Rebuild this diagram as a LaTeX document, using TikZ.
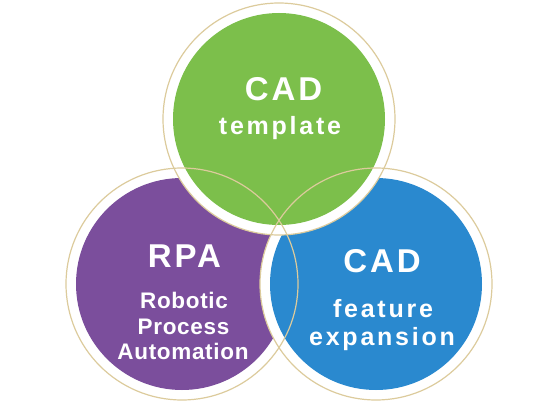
\documentclass[tikz,border=0pt]{standalone}
\usepackage{fontspec}
\setmainfont{Liberation Sans}
\newfontfamily\bigfont{Liberation Sans}[BoldFont={* Bold},LetterSpace=9]
\newfontfamily\widefont{Liberation Sans}[BoldFont={* Bold},LetterSpace=11]
\newfontfamily\tightfont{Liberation Sans}[BoldFont={* Bold},LetterSpace=3]
\definecolor{cgreen}{HTML}{7CBF4B}
\definecolor{cpurple}{HTML}{7B4E9C}
\definecolor{cblue}{HTML}{2A89CF}
\definecolor{ctan}{HTML}{DCCB9C}
\tikzset{
  ring/.style={draw=ctan,line width=1.2pt},
  bigtxt/.style={text=white,inner sep=0pt,anchor=base,font=\bigfont\bfseries\fontsize{33}{33}\selectfont},
  widetxt/.style={text=white,inner sep=0pt,anchor=base,font=\widefont\bfseries\fontsize{25}{25}\selectfont},
  tighttxt/.style={text=white,inner sep=0pt,anchor=base,font=\tightfont\bfseries\fontsize{22.5}{22.5}\selectfont}
}
\begin{document}
\begin{tikzpicture}[x=1pt,y=-1pt]
\useasboundingbox (0,0) rectangle (560,404);
\coordinate (G) at (279,119);
\coordinate (P) at (182,284);
\coordinate (B) at (376,284);
% discs with white borders
\fill[white] (P) circle (116pt);
\fill[cpurple] (P) circle (106pt);
\fill[white] (B) circle (116pt);
\fill[cblue] (B) circle (106pt);
\fill[white] (G) circle (116pt);
\fill[cgreen] (G) circle (106pt);
% tan rings
\draw[ring] (P) circle (116pt);
\draw[ring] (B) circle (116pt);
\draw[ring] (G) circle (116pt);
% texts
\node[bigtxt] (gcad) at (283.5,100) {CAD};
\node[widetxt] (gtemp) at (280,135) {template};
\node[bigtxt] (ptitle) at (184.5,267) {RPA};
\node[tighttxt] (p1) at (184,308) {Robotic};
\node[tighttxt] (p2) at (183.5,334) {Process};
\node[tighttxt] (p3) at (183,359) {Automation};
\node[bigtxt] (btitle) at (382,272) {CAD};
\node[widetxt] (b1) at (383,317) {feature};
\node[widetxt] (b2) at (382,345) {expansion};
\end{tikzpicture}
\end{document}
